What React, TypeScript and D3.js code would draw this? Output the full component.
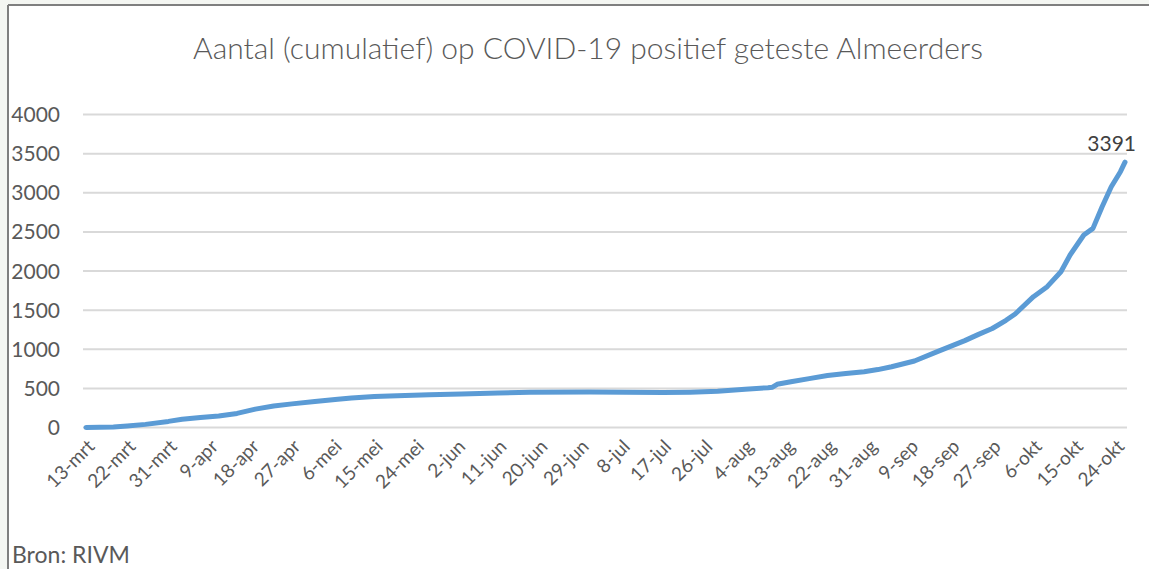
import React, { useRef, useEffect } from "react";
import * as d3 from "d3";

// cumulatieve aantallen (2020)
const dates = [
  "2020-03-13", "2020-03-19", "2020-03-22", "2020-03-26", "2020-03-31",
  "2020-04-03", "2020-04-07", "2020-04-11", "2020-04-15", "2020-04-19",
  "2020-04-23", "2020-04-27", "2020-05-02", "2020-05-07", "2020-05-10",
  "2020-05-15", "2020-05-20", "2020-05-27", "2020-06-03", "2020-06-11",
  "2020-06-18", "2020-07-01", "2020-07-09", "2020-07-17", "2020-07-23",
  "2020-07-29", "2020-08-04", "2020-08-09", "2020-08-10", "2020-08-11",
  "2020-08-14", "2020-08-18", "2020-08-22", "2020-08-26", "2020-08-30",
  "2020-09-02", "2020-09-05", "2020-09-10", "2020-09-15", "2020-09-18",
  "2020-09-21", "2020-09-24", "2020-09-27", "2020-09-30", "2020-10-02",
  "2020-10-06", "2020-10-09", "2020-10-12", "2020-10-14", "2020-10-17",
  "2020-10-19", "2020-10-21", "2020-10-23", "2020-10-25", "2020-10-26",
];
const values = [
  0, 5, 18, 40, 78,
  105, 128, 147, 180, 235,
  275, 302, 332, 362, 378,
  395, 406, 418, 428, 440,
  450, 454, 450, 447, 452,
  463, 488, 509, 515, 552,
  585, 625, 665, 690, 713,
  740, 777, 850, 969, 1040,
  1110, 1190, 1265, 1370, 1450,
  1672, 1800, 1991, 2204, 2460,
  2545, 2822, 3077, 3269, 3391,
];
const xTickLabels = [
  "13-mrt", "22-mrt", "31-mrt", "9-apr", "18-apr", "27-apr", "6-mei",
  "15-mei", "24-mei", "2-jun", "11-jun", "20-jun", "29-jun", "8-jul",
  "17-jul", "26-jul", "4-aug", "13-aug", "22-aug", "31-aug", "9-sep",
  "18-sep", "27-sep", "6-okt", "15-okt", "24-okt",
];
const yTicks = [0, 500, 1000, 1500, 2000, 2500, 3000, 3500, 4000];

const title = "Aantal (cumulatief) op COVID-19 positief geteste Almeerders";
const source = "Bron: RIVM";

const W = 1149;
const H = 569;

const App: React.FC = () => {
  const ref = useRef<SVGSVGElement | null>(null);

  useEffect(() => {
    const svg = d3.select(ref.current);
    svg.selectAll("*").remove();

    const parse = d3.timeParse("%Y-%m-%d");
    const data = dates.map((d, i) => ({ date: parse(d)!, value: values[i] }));
    const start = data[0].date;

    const x = d3
      .scaleTime()
      .domain([start, data[data.length - 1].date])
      .range([86, 1125]);
    const y = d3.scaleLinear().domain([0, 4000]).range([427.5, 114.5]);

    // achtergrond + kader
    svg.append("rect").attr("width", W).attr("height", H).attr("fill", "#f4f6f2");
    svg.append("rect").attr("x", 8).attr("y", 5).attr("width", W).attr("height", H).attr("fill", "#fff");
    svg.append("line").attr("x1", 8).attr("x2", W).attr("y1", 5).attr("y2", 5)
      .attr("stroke", "#7f7f7f").attr("stroke-width", 2);
    svg.append("line").attr("x1", 8).attr("x2", 8).attr("y1", 5).attr("y2", H)
      .attr("stroke", "#7f7f7f").attr("stroke-width", 2);

    const font = "Lato, 'Open Sans', sans-serif";

    svg.append("text")
      .attr("x", 588)
      .attr("y", 59)
      .attr("text-anchor", "middle")
      .attr("font-family", font)
      .attr("font-weight", 300)
      .attr("font-size", 30)
      .attr("fill", "#595959")
      .text(title);

    // gridlines + y labels
    const grid = svg.append("g");
    yTicks.forEach((t) => {
      grid.append("line")
        .attr("x1", 83).attr("x2", 1127)
        .attr("y1", y(t)).attr("y2", y(t))
        .attr("stroke", "#d9d9d9").attr("stroke-width", 2);
      grid.append("text")
        .attr("x", 60).attr("y", y(t))
        .attr("dy", "0.36em")
        .attr("text-anchor", "end")
        .attr("font-family", font)
        .attr("font-size", 21)
        .attr("fill", "#595959")
        .text(t);
    });

    // x labels, every 9 days
    xTickLabels.forEach((lab, i) => {
      const px = x(d3.timeDay.offset(start, i * 9));
      svg.append("text")
        .attr("transform", `translate(${px + 5},${443}) rotate(-45)`)
        .attr("text-anchor", "end")
        .attr("dy", "0.35em")
        .attr("font-family", font)
        .attr("font-size", 19)
        .attr("fill", "#595959")
        .text(lab);
    });

    const line = d3
      .line<{ date: Date; value: number }>()
      .x((d) => x(d.date))
      .y((d) => y(d.value));

    svg.append("path")
      .datum(data)
      .attr("d", line)
      .attr("fill", "none")
      .attr("stroke", "#5b9bd5")
      .attr("stroke-width", 5)
      .attr("stroke-linejoin", "round")
      .attr("stroke-linecap", "round");

    const last = data[data.length - 1];
    svg.append("text")
      .attr("x", x(last.date) + 11)
      .attr("y", y(last.value) - 11)
      .attr("text-anchor", "end")
      .attr("font-family", font)
      .attr("font-size", 21)
      .attr("fill", "#404040")
      .text(last.value);

    svg.append("text")
      .attr("x", 12)
      .attr("y", 563)
      .attr("font-family", font)
      .attr("font-size", 23)
      .attr("fill", "#595959")
      .text(source);
  }, []);

  return (
    <svg
      ref={ref}
      width={W}
      height={H}
      style={{ position: "absolute", left: 0, top: 0, display: "block" }}
    />
  );
};

export default App;
